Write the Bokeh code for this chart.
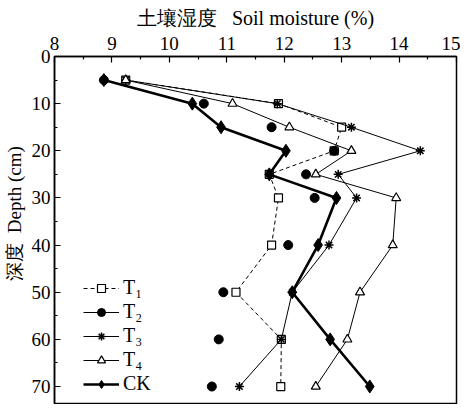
from bokeh.plotting import figure
from bokeh.models import Range1d, FixedTicker, Legend, LegendItem
from bokeh.embed import file_html
from bokeh.resources import INLINE

# Depth (cm) and soil moisture (%) values
depth = [5, 10, 15, 20, 25, 30, 40, 50, 60, 70]
t1 = [9.24, 11.90, 13.00, 12.87, 11.74, 11.90, 11.78, 11.16, 11.95, 11.94]
t2 = [8.86, 10.60, 11.78, 12.87, 12.38, 12.53, 12.07, 10.94, 10.86, 10.74]
t3 = [9.24, 11.88, 13.17, 14.37, 12.94, 13.26, 12.78, 12.14, 11.95, 11.22]
t4 = [9.24, 11.10, 12.09, 13.17, 12.55, 13.95, 13.89, 13.32, 13.10, 12.55]
ck = [8.86, 10.40, 10.90, 12.03, 11.74, 12.91, 12.59, 12.14, 12.80, 13.49]

x_ticks = [8, 9, 10, 11, 12, 13, 14, 15]
x_minor = [8.5, 9.5, 10.5, 11.5, 12.5, 13.5, 14.5]
y_ticks = [0, 10, 20, 30, 40, 50, 60, 70]
y_minor = [5, 15, 25, 35, 45, 55, 65]

SERIF = "Liberation Serif"
NB = "\u00a0"

p = figure(width=460, height=404, x_range=Range1d(8, 15), y_range=Range1d(73.6, 0),
           x_axis_location="above", output_backend="svg", toolbar_location=None,
           min_border_left=52, min_border_right=4, min_border_top=56, min_border_bottom=1)

p.xgrid.visible = False
p.ygrid.visible = False
p.outline_line_color = "black"
p.outline_line_width = 1.5
p.background_fill_color = "white"
p.border_fill_color = "white"

xa = p.xaxis[0]
xa.ticker = FixedTicker(ticks=x_ticks, minor_ticks=x_minor)
xa.axis_label = "土壤湿度" + NB * 3 + "Soil moisture (%)"
ya = p.yaxis[0]
ya.ticker = FixedTicker(ticks=y_ticks, minor_ticks=y_minor)
ya.axis_label = NB * 7 + "深度" + NB * 2 + "Depth (cm)"
for ax in (xa, ya):
    ax.axis_line_width = 1.5
    ax.axis_line_color = "black"
    ax.major_tick_in = 6
    ax.major_tick_out = 0
    ax.minor_tick_in = 3
    ax.minor_tick_out = 0
    ax.major_tick_line_width = 1.2
    ax.minor_tick_line_width = 1.2
    ax.major_label_text_font = SERIF
    ax.major_label_text_font_size = "19px"
    ax.major_label_text_color = "black"
    ax.axis_label_text_font = SERIF
    ax.axis_label_text_font_style = "normal"
    ax.axis_label_text_color = "black"
xa.axis_label_text_font_size = "20px"
ya.axis_label_text_font_size = "19px"
xa.major_label_standoff = 7
xa.axis_label_standoff = 5
ya.major_label_standoff = 4
ya.axis_label_standoff = 4

# T1: dashed line, open squares
l1 = p.line(t1, depth, line_color="black", line_width=1, line_dash="4 3")
s1 = p.scatter(t1, depth, marker="square", size=8, fill_color="white", line_color="black", line_width=1.2)
# T3: thin line, asterisks
l3 = p.line(t3, depth, line_color="black", line_width=1)
s3 = p.scatter(t3, depth, marker="asterisk", size=9, line_color="black", line_width=1.5)
# T4: thin line, open triangles
l4 = p.line(t4, depth, line_color="black", line_width=1)
s4 = p.scatter(t4, depth, marker="triangle", size=9, fill_color="white", line_color="black", line_width=1.2)
# CK: thick line, diamonds
lc = p.line(ck, depth, line_color="black", line_width=2.6)
sc = p.scatter(ck, depth, marker="diamond", size=13, fill_color="black", line_color="black")
# T2: filled circles (points only in the plot; one-point line gives the legend its stroke)
l2 = p.line(t2[:1], depth[:1], line_color="black", line_width=1)
s2 = p.scatter(t2, depth, marker="circle", size=9, fill_color="black", line_color="black")

legend = Legend(items=[
    LegendItem(label="T₁", renderers=[l1, s1]),
    LegendItem(label="T₂", renderers=[l2, s2]),
    LegendItem(label="T₃", renderers=[l3, s3]),
    LegendItem(label="T₄", renderers=[l4, s4]),
    LegendItem(label="CK", renderers=[lc, sc]),
], location=(29, 8))
legend.background_fill_alpha = 0
legend.border_line_alpha = 0
legend.padding = 0
legend.margin = 0
legend.spacing = 1
legend.glyph_width = 36
legend.glyph_height = 20
legend.label_height = 20
legend.label_standoff = 4
legend.label_text_font = SERIF
legend.label_text_font_size = "20px"
legend.label_text_color = "black"
p.add_layout(legend)

open("out.html", "w").write(file_html(p, INLINE))
